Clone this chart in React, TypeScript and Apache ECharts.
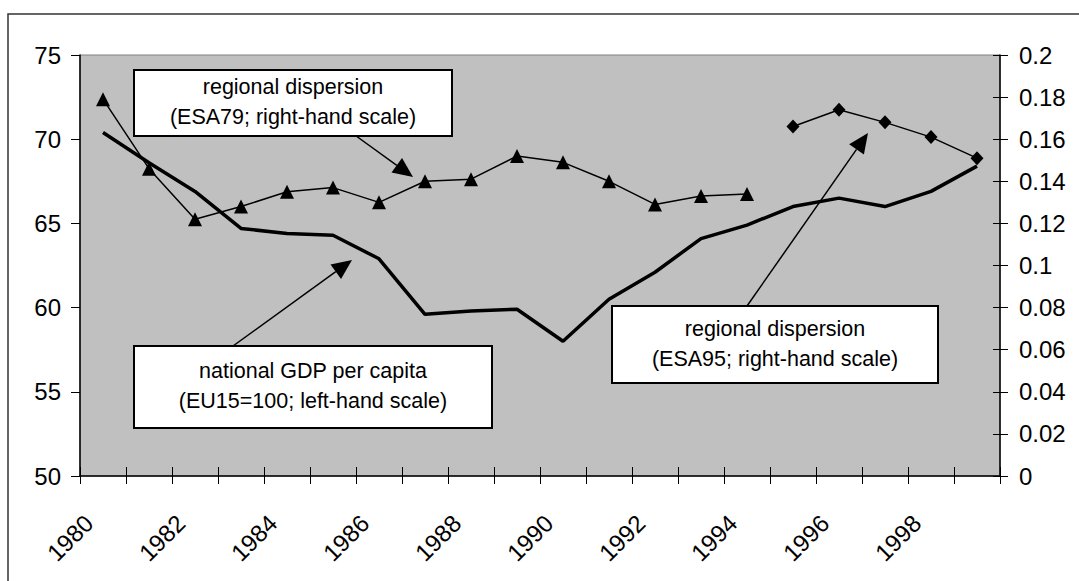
import React, { useEffect, useRef } from "react";
import * as echarts from "echarts";

const years = ["1980","1981","1982","1983","1984","1985","1986","1987","1988","1989","1990","1991","1992","1993","1994","1995","1996","1997","1998","1999"];
const gdpPerCapita = [70.4, 68.6, 66.9, 64.7, 64.4, 64.3, 62.9, 59.6, 59.8, 59.9, 58.0, 60.5, 62.1, 64.1, 64.9, 66.0, 66.5, 66.0, 66.9, 68.4];
const dispersionESA79 = [0.179, 0.146, 0.122, 0.128, 0.135, 0.137, 0.130, 0.140, 0.141, 0.152, 0.149, 0.140, 0.129, 0.133, 0.134, null, null, null, null, null];
const dispersionESA95 = [null, null, null, null, null, null, null, null, null, null, null, null, null, null, null, 0.166, 0.174, 0.168, 0.161, 0.151];
const leftTicks = { min: 50, max: 75, interval: 5 };
const rightTicks = { min: 0, max: 0.2, interval: 0.02 };

const FONT = "'Liberation Sans', Arial, sans-serif";

function arrow(x1: number, y1: number, x2: number, y2: number) {
  const dx = x2 - x1, dy = y2 - y1;
  const L = Math.hypot(dx, dy);
  const ux = dx / L, uy = dy / L;
  const len = 20, hw = 9;
  const bx = x2 - ux * len, by = y2 - uy * len;
  return [
    { type: "line", z: 100, silent: true, shape: { x1, y1, x2: bx, y2: by }, style: { stroke: "#000", lineWidth: 1.5 } },
    { type: "polygon", z: 100, silent: true, shape: { points: [[x2, y2], [bx - uy * hw, by + ux * hw], [bx + uy * hw, by - ux * hw]] }, style: { fill: "#000" } },
  ];
}

function box(x: number, y: number, w: number, h: number, text: string) {
  return [
    { type: "rect", z: 101, silent: true, shape: { x, y, width: w, height: h }, style: { fill: "#fff", stroke: "#000", lineWidth: 2 } },
    { type: "text", z: 102, silent: true, x: x + w / 2, y: y + h / 2 - 1, style: { text, fill: "#000", fontSize: 21.5, fontFamily: FONT, align: "center", verticalAlign: "middle", lineHeight: 30 } },
  ];
}

export default function App() {
  const ref = useRef<HTMLDivElement>(null);
  useEffect(() => {
    if (!ref.current) return;
    const chart = echarts.init(ref.current, undefined, { renderer: "svg" });
    const axisLabelStyle = { color: "#000", fontSize: 24, fontFamily: FONT };
    chart.setOption({
      animation: false,
      backgroundColor: "#fff",
      grid: { left: 80, top: 55, right: 79, bottom: 105, show: true, backgroundColor: "#C0C0C0", borderColor: "#808080", borderWidth: 1 },
      xAxis: [
        {
          type: "category", data: years, position: "bottom", boundaryGap: true,
          axisLine: { show: true, lineStyle: { color: "#000", width: 1.5 } },
          axisTick: { show: true, interval: 0, inside: false, length: 8, lineStyle: { color: "#000", width: 1 } },
          axisLabel: { ...axisLabelStyle, interval: 1, rotate: 45, margin: 29, padding: [0, 20, 0, 0] },
          splitLine: { show: false },
        },
        {
          type: "category", data: years, position: "bottom", boundaryGap: true,
          axisLine: { show: false },
          axisTick: { show: true, interval: 0, inside: true, length: 9, lineStyle: { color: "#000", width: 1 } },
          axisLabel: { show: false },
          splitLine: { show: false },
        },
      ],
      yAxis: [
        {
          type: "value", position: "left", ...leftTicks,
          axisLine: { show: true, lineStyle: { color: "#000", width: 1.5 } },
          axisTick: { show: true, inside: false, length: 9, lineStyle: { color: "#000", width: 1 } },
          axisLabel: { ...axisLabelStyle, margin: 19 },
          splitLine: { show: false },
        },
        {
          type: "value", position: "right", ...rightTicks,
          axisLine: { show: true, lineStyle: { color: "#000", width: 1.5 } },
          axisTick: { show: true, inside: false, length: 8, lineStyle: { color: "#000", width: 1 } },
          axisLabel: { ...axisLabelStyle, margin: 19, formatter: (v: number) => String(+v.toFixed(2)) },
          splitLine: { show: false },
        },
        {
          type: "value", position: "right", ...rightTicks,
          axisLine: { show: false },
          axisTick: { show: true, inside: true, length: 7, lineStyle: { color: "#000", width: 1 } },
          axisLabel: { show: false },
          splitLine: { show: false },
        },
      ],
      series: [
        {
          name: "national GDP per capita", type: "line", xAxisIndex: 0, yAxisIndex: 0, data: gdpPerCapita,
          symbol: "none", lineStyle: { color: "#000", width: 3.5 }, z: 2,
        },
        {
          name: "regional dispersion (ESA79)", type: "line", xAxisIndex: 0, yAxisIndex: 1, data: dispersionESA79,
          symbol: "triangle", symbolSize: 14, showAllSymbol: true, connectNulls: false,
          lineStyle: { color: "#000", width: 1.5 }, itemStyle: { color: "#000" }, z: 3,
        },
        {
          name: "regional dispersion (ESA95)", type: "line", xAxisIndex: 0, yAxisIndex: 1, data: dispersionESA95,
          symbol: "diamond", symbolSize: [13, 14], showAllSymbol: true, connectNulls: false,
          lineStyle: { color: "#000", width: 1.5 }, itemStyle: { color: "#000" }, z: 3,
        },
      ],
      graphic: [
        { type: "rect", silent: true, z: 0, shape: { x: 8, y: 14, width: 1300, height: 1000 }, style: { fill: "none", stroke: "#333", lineWidth: 1.5 } },
        ...arrow(352, 133, 413, 177),
        ...arrow(233, 346, 352, 260),
        ...arrow(747, 306, 868, 133),
        ...box(134, 70, 318, 66, "regional dispersion\n(ESA79; right-hand scale)"),
        ...box(134, 346, 358, 82, "national GDP per capita\n(EU15=100; left-hand scale)"),
        ...box(612, 306, 326, 77, "regional dispersion\n(ESA95; right-hand scale)"),
      ],
    });
    return () => chart.dispose();
  }, []);
  return <div ref={ref} style={{ position: "absolute", left: 0, top: 0, width: 1079, height: 581 }} />;
}
